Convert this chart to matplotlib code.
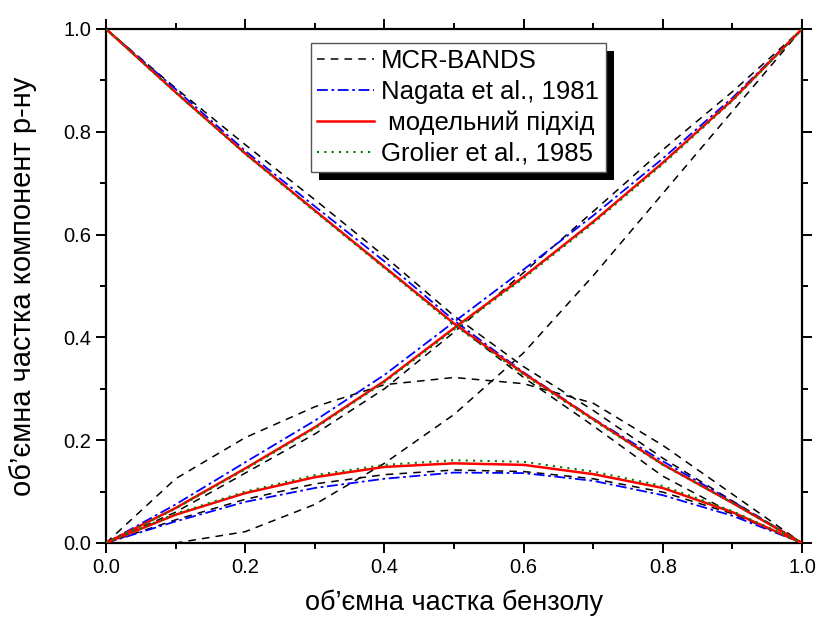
import matplotlib
matplotlib.use("Agg")
import matplotlib.pyplot as plt
from matplotlib.patches import Rectangle
from matplotlib.ticker import MultipleLocator, FormatStrFormatter

plt.rcParams['font.family'] = ['Liberation Sans', 'DejaVu Sans']

# ---- data ----
x = [0.0, 0.1, 0.2, 0.3, 0.4, 0.5, 0.6, 0.7, 0.8, 0.9, 1.0]

# MCR-BANDS (max / min bands for the three components)
mcr_hump_max = [0.0, 0.125, 0.205, 0.265, 0.308, 0.322, 0.31, 0.272, 0.19, 0.095, 0.0]
mcr_hump_min = [0.0, 0.045, 0.085, 0.115, 0.133, 0.142, 0.139, 0.125, 0.099, 0.057, 0.0]
mcr_incr_max = [0.0, 0.06, 0.136, 0.212, 0.3, 0.41, 0.526, 0.645, 0.765, 0.878, 1.0]
mcr_incr_min = [0.0, 0.0, 0.022, 0.075, 0.155, 0.25, 0.37, 0.52, 0.68, 0.84, 1.0]
mcr_decr_max = [1.0, 0.885, 0.775, 0.668, 0.558, 0.442, 0.343, 0.258, 0.165, 0.082, 0.0]
mcr_decr_min = [1.0, 0.877, 0.758, 0.647, 0.537, 0.427, 0.322, 0.228, 0.13, 0.058, 0.0]

# Nagata et al., 1981
nag_incr = [0.0, 0.075, 0.157, 0.238, 0.327, 0.43, 0.532, 0.637, 0.748, 0.866, 1.0]
nag_hump = [0.0, 0.042, 0.08, 0.107, 0.125, 0.137, 0.136, 0.121, 0.093, 0.053, 0.0]
nag_decr = [1.0, 0.883, 0.763, 0.655, 0.548, 0.433, 0.332, 0.242, 0.159, 0.081, 0.0]

# model approach
mod_incr = [0.0, 0.068, 0.145, 0.225, 0.315, 0.418, 0.518, 0.625, 0.74, 0.862, 1.0]
mod_hump = [0.0, 0.055, 0.097, 0.128, 0.148, 0.155, 0.152, 0.134, 0.107, 0.06, 0.0]
mod_decr = [1.0, 0.877, 0.758, 0.647, 0.537, 0.427, 0.33, 0.241, 0.153, 0.078, 0.0]

# Grolier et al., 1985
gro_incr = [0.0, 0.067, 0.143, 0.223, 0.313, 0.415, 0.515, 0.622, 0.737, 0.86, 1.0]
gro_hump = [0.0, 0.057, 0.1, 0.132, 0.152, 0.161, 0.158, 0.139, 0.111, 0.062, 0.0]
gro_decr = [1.0, 0.876, 0.757, 0.645, 0.535, 0.424, 0.327, 0.239, 0.152, 0.078, 0.0]

labels = ['MCR-BANDS', 'Nagata et al., 1981', ' модельний підхід', 'Grolier et al., 1985']
xlabel = "об’ємна частка бензолу"
ylabel = "об’ємна частка компонент р-ну"

# ---- figure ----
fig = plt.figure(figsize=(8.19, 6.17), dpi=100)
ax = fig.add_axes([106/819, 74/617, 696/819, 514/617])

kw_black = dict(color='black', lw=1.1, dashes=(5, 4))
for i, yy in enumerate([mcr_hump_max, mcr_hump_min, mcr_incr_max,
                        mcr_incr_min, mcr_decr_max, mcr_decr_min]):
    ax.plot(x, yy, label=labels[0] if i == 0 else None, zorder=2, **kw_black)

kw_blue = dict(color='#0000ff', lw=1.3, dashes=(6, 2, 1.5, 2))
for i, yy in enumerate([nag_incr, nag_hump, nag_decr]):
    ax.plot(x, yy, label=labels[1] if i == 0 else None, zorder=3, **kw_blue)

kw_red = dict(color='#ff0000', lw=1.8, solid_joinstyle='round')
for i, yy in enumerate([mod_incr, mod_hump, mod_decr]):
    ax.plot(x, yy, label=labels[2] if i == 0 else None, zorder=4, **kw_red)

kw_green = dict(color='#008000', lw=1.5, dashes=(1, 2.5))
for i, yy in enumerate([gro_incr, gro_hump, gro_decr]):
    ax.plot(x, yy, label=labels[3] if i == 0 else None, zorder=5, **kw_green)

ax.set_xlim(0, 1)
ax.set_ylim(0, 1)
ax.xaxis.set_major_locator(MultipleLocator(0.2))
ax.xaxis.set_minor_locator(MultipleLocator(0.1))
ax.yaxis.set_major_locator(MultipleLocator(0.2))
ax.yaxis.set_minor_locator(MultipleLocator(0.1))
ax.xaxis.set_major_formatter(FormatStrFormatter('%.1f'))
ax.yaxis.set_major_formatter(FormatStrFormatter('%.1f'))
ax.tick_params(which='both', direction='out', top=True, right=True, width=1.4,
               labelsize=14.5)
ax.tick_params(which='major', length=7)
ax.tick_params(which='minor', length=4)
for s in ax.spines.values():
    s.set_linewidth(1.6)

ax.set_xlabel(xlabel, fontsize=19.5, labelpad=9)
ax.set_ylabel(ylabel, fontsize=21, labelpad=19)

leg = ax.legend(loc='upper left', bbox_to_anchor=(0.294, 0.973), fontsize=18.5,
                frameon=True, fancybox=False, edgecolor='#555555',
                framealpha=1, handlelength=2.2, handletextpad=0.3,
                labelspacing=0.26, borderpad=0.25, borderaxespad=0)
leg.get_frame().set_linewidth(1.0)
leg.set_zorder(20)

fig.canvas.draw()
bb = leg.get_window_extent()
inv = ax.transAxes.inverted()
(x0, y0), (x1, y1) = inv.transform([[bb.x0 + 8, bb.y0 - 8], [bb.x1 + 8, bb.y1 - 8]])
shadow = Rectangle((x0, y0), x1 - x0, y1 - y0, transform=ax.transAxes,
                   facecolor='black', edgecolor='none', zorder=19, clip_on=False)
ax.add_patch(shadow)

fig.savefig('out.png', dpi=100)
